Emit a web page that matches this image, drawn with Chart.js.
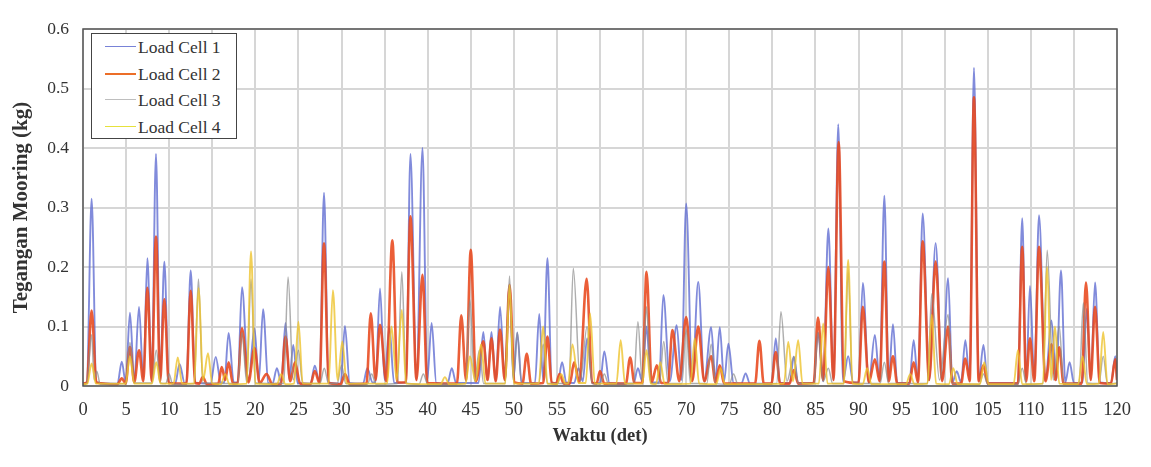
<!DOCTYPE html>
<html>
<head>
<meta charset="utf-8">
<script src="https://cdn.jsdelivr.net/npm/chart.js@4/dist/chart.umd.min.js"></script>
<style>
  html, body { margin: 0; padding: 0; background: #fff; }
  #wrap { position: relative; width: 1151px; height: 467px; }
  #legend {
    position: absolute; left: 91px; top: 33px; width: 144px; height: 104px;
    border: 1.5px solid #444; background: #fff; box-sizing: content-box;
    font-family: "Liberation Serif", "Times New Roman", serif; font-size: 17.5px; color: #333;
  }
  #legend .row { position: absolute; left: 0; height: 24px; line-height: 24px; white-space: nowrap; }
  #legend .swatch { position: absolute; left: 13px; top: 11px; width: 31px; }
  #legend .lbl { position: absolute; left: 46px; top: 0; }
</style>
</head>
<body>
<div id="wrap">
  <canvas id="c" width="1151" height="467"></canvas>
  <div id="legend"></div>
</div>
<script>
// ---- data (time in s, tension in kg) ----
const seriesNames = ["Load Cell 1", "Load Cell 2", "Load Cell 3", "Load Cell 4"];
const xTickStep = 5;
const yTickStep = 0.1;

const cell1Points = [[0,0.004],[0.45,0.006],[1.0,0.315],[1.55,0.006],[4.0,0.004],[4.5,0.041],[4.95,0.006],[5.45,0.123],[5.95,0.008],[6.5,0.133],[7.0,0.01],[7.47,0.215],[7.97,0.01],[8.47,0.39],[8.95,0.01],[9.44,0.209],[9.95,0.006],[10.7,0.004],[11.2,0.037],[11.8,0.005],[12.0,0.006],[12.5,0.194],[13.0,0.006],[14.8,0.004],[15.4,0.049],[16.0,0.006],[16.4,0.006],[16.9,0.089],[17.5,0.006],[17.95,0.006],[18.45,0.166],[19.2,0.008],[19.9,0.097],[20.4,0.008],[20.9,0.129],[21.5,0.005],[22.0,0.004],[22.5,0.03],[23.0,0.006],[23.5,0.106],[23.95,0.01],[24.4,0.069],[24.9,0.005],[26.4,0.004],[26.9,0.034],[27.45,0.006],[27.97,0.325],[28.5,0.006],[29.9,0.004],[30.4,0.101],[30.95,0.005],[32.5,0.004],[33.0,0.03],[33.6,0.006],[33.95,0.006],[34.47,0.164],[35.0,0.01],[35.55,0.1],[36.1,0.005],[37.5,0.006],[38.0,0.39],[38.7,0.01],[39.4,0.4],[39.95,0.01],[40.46,0.106],[41.0,0.005],[42.3,0.004],[42.8,0.03],[43.3,0.005],[45.9,0.005],[46.46,0.091],[46.95,0.01],[47.4,0.091],[47.9,0.008],[48.4,0.133],[48.95,0.01],[49.5,0.17],[49.95,0.01],[50.4,0.09],[50.9,0.005],[52.45,0.005],[52.95,0.121],[53.4,0.01],[53.9,0.215],[54.4,0.006],[55.1,0.005],[55.6,0.04],[56.1,0.006],[57.0,0.005],[57.5,0.03],[58.0,0.008],[58.5,0.08],[59.1,0.005],[60.0,0.005],[60.5,0.058],[61.1,0.005],[63.9,0.004],[64.4,0.03],[64.9,0.008],[65.4,0.1],[65.9,0.006],[66.85,0.006],[67.35,0.153],[68.1,0.008],[68.9,0.102],[69.45,0.01],[70.0,0.307],[70.7,0.01],[71.4,0.175],[72.1,0.008],[72.9,0.099],[73.4,0.01],[73.9,0.099],[74.4,0.008],[74.9,0.071],[75.5,0.005],[76.4,0.004],[76.9,0.021],[77.4,0.004],[79.9,0.004],[80.4,0.08],[80.9,0.005],[82.0,0.005],[82.5,0.049],[83.0,0.005],[84.8,0.005],[85.3,0.09],[85.9,0.008],[86.5,0.265],[87.1,0.01],[87.65,0.44],[88.2,0.008],[88.8,0.05],[89.4,0.006],[90.0,0.006],[90.5,0.173],[91.2,0.006],[91.9,0.086],[92.45,0.008],[93.0,0.32],[93.5,0.01],[94.0,0.104],[94.5,0.005],[95.9,0.005],[96.4,0.077],[96.9,0.008],[97.45,0.29],[98.2,0.01],[98.95,0.24],[99.7,0.01],[100.4,0.181],[100.9,0.006],[101.4,0.025],[101.9,0.006],[102.4,0.077],[102.9,0.008],[103.4,0.535],[103.95,0.008],[104.5,0.069],[105.0,0.005],[108.5,0.005],[109.0,0.282],[109.45,0.01],[109.9,0.168],[110.4,0.01],[110.95,0.287],[111.7,0.01],[112.4,0.11],[112.95,0.01],[113.5,0.194],[114.0,0.006],[114.5,0.04],[115.0,0.005],[116.0,0.006],[116.5,0.13],[116.95,0.01],[117.45,0.174],[118.0,0.006],[119.3,0.005],[119.8,0.05],[120,0.01]];

const cell2Points = [[0,0.004],[0.45,0.006],[1.0,0.127],[1.55,0.006],[4.0,0.003],[4.5,0.013],[4.95,0.004],[5.45,0.066],[5.95,0.006],[6.5,0.06],[7.0,0.008],[7.47,0.165],[7.97,0.008],[8.47,0.251],[8.95,0.008],[9.44,0.146],[9.95,0.005],[12.0,0.004],[12.5,0.16],[13.0,0.005],[13.5,0.004],[13.9,0.015],[14.4,0.003],[15.7,0.004],[16.1,0.032],[16.5,0.01],[16.9,0.04],[17.4,0.004],[17.95,0.005],[18.45,0.097],[19.2,0.006],[19.9,0.064],[20.5,0.005],[21.3,0.02],[22.0,0.003],[23.0,0.004],[23.5,0.083],[24.05,0.008],[24.6,0.04],[25.2,0.004],[26.4,0.003],[26.9,0.025],[27.45,0.005],[27.97,0.24],[28.5,0.005],[29.9,0.003],[30.4,0.02],[30.95,0.003],[32.9,0.004],[33.4,0.122],[33.95,0.01],[34.47,0.103],[35.2,0.008],[35.9,0.245],[36.5,0.006],[37.45,0.006],[38.0,0.285],[38.7,0.01],[39.4,0.187],[39.95,0.005],[43.4,0.004],[43.9,0.119],[44.45,0.01],[45.0,0.229],[45.6,0.008],[46.46,0.075],[46.95,0.01],[47.4,0.08],[47.9,0.008],[48.4,0.095],[48.95,0.01],[49.5,0.17],[50.1,0.006],[51.0,0.004],[51.5,0.054],[52.0,0.004],[53.4,0.005],[53.9,0.083],[54.4,0.005],[54.9,0.004],[55.3,0.02],[55.8,0.004],[56.5,0.004],[57.0,0.04],[57.6,0.006],[58.45,0.18],[59.1,0.006],[59.6,0.004],[60.0,0.025],[60.5,0.004],[63.0,0.004],[63.5,0.048],[64.0,0.005],[64.9,0.005],[65.4,0.192],[66.0,0.006],[66.6,0.035],[67.1,0.005],[67.9,0.005],[68.4,0.094],[69.2,0.008],[70.0,0.116],[70.7,0.008],[71.4,0.1],[72.1,0.008],[72.9,0.05],[73.4,0.006],[73.9,0.035],[74.4,0.004],[78.0,0.004],[78.5,0.076],[79.0,0.004],[79.9,0.004],[80.4,0.057],[80.9,0.004],[82.0,0.004],[82.5,0.027],[83.0,0.004],[84.8,0.005],[85.3,0.115],[85.9,0.01],[86.5,0.2],[87.1,0.01],[87.7,0.41],[88.3,0.008],[90.0,0.005],[90.5,0.133],[91.2,0.006],[91.9,0.045],[92.45,0.008],[93.0,0.209],[93.5,0.008],[94.0,0.05],[94.5,0.004],[95.9,0.004],[96.4,0.04],[96.9,0.006],[97.45,0.243],[98.2,0.01],[98.95,0.209],[99.7,0.008],[100.4,0.1],[100.9,0.004],[101.9,0.004],[102.4,0.046],[102.9,0.008],[103.4,0.485],[103.95,0.008],[104.5,0.035],[105.0,0.004],[108.5,0.004],[109.0,0.234],[109.45,0.008],[109.9,0.08],[110.4,0.008],[110.95,0.234],[111.7,0.008],[112.4,0.07],[112.85,0.01],[113.3,0.065],[113.8,0.004],[115.9,0.004],[116.4,0.174],[116.95,0.01],[117.45,0.133],[118.0,0.005],[119.3,0.004],[119.8,0.045],[120,0.01]];

const cell3Points = [[0,0.003],[0.45,0.005],[1.0,0.086],[1.3,0.01],[1.6,0.025],[2.0,0.003],[4.95,0.004],[5.45,0.073],[5.95,0.005],[8.0,0.005],[8.5,0.06],[9.0,0.005],[9.6,0.004],[10.0,0.02],[10.4,0.003],[12.9,0.004],[13.4,0.18],[13.9,0.005],[17.95,0.004],[18.45,0.09],[19.0,0.006],[19.5,0.18],[20.0,0.005],[23.3,0.004],[23.8,0.183],[24.4,0.01],[25.0,0.06],[25.5,0.004],[27.5,0.004],[28.0,0.03],[28.5,0.004],[29.5,0.004],[30.0,0.035],[30.5,0.004],[33.0,0.003],[33.5,0.02],[34.0,0.003],[36.5,0.004],[37.0,0.192],[37.5,0.005],[39.0,0.003],[39.5,0.02],[40.0,0.003],[44.4,0.004],[44.9,0.145],[45.45,0.008],[46.0,0.06],[46.5,0.004],[49.0,0.004],[49.5,0.185],[49.95,0.01],[50.4,0.09],[50.9,0.004],[52.9,0.004],[53.4,0.07],[53.9,0.004],[56.4,0.004],[56.9,0.198],[57.7,0.008],[58.5,0.1],[59.1,0.004],[60.0,0.003],[60.5,0.02],[61.0,0.003],[63.9,0.004],[64.4,0.108],[64.9,0.01],[65.4,0.133],[65.9,0.005],[66.9,0.004],[67.4,0.075],[67.9,0.004],[69.5,0.004],[70.0,0.095],[70.5,0.004],[72.4,0.004],[72.9,0.07],[73.4,0.004],[75.0,0.003],[75.5,0.02],[76.0,0.003],[80.5,0.004],[81.0,0.125],[81.7,0.008],[82.5,0.05],[83.0,0.004],[84.8,0.004],[85.3,0.09],[85.9,0.008],[86.5,0.03],[87.0,0.004],[88.3,0.004],[88.8,0.195],[89.3,0.005],[92.5,0.004],[93.0,0.04],[93.5,0.004],[98.0,0.004],[98.5,0.155],[99.4,0.01],[100.4,0.12],[100.9,0.004],[104.0,0.003],[104.5,0.02],[105.0,0.003],[108.5,0.003],[109.0,0.03],[109.5,0.003],[111.4,0.004],[111.9,0.228],[112.6,0.01],[113.3,0.1],[113.8,0.004],[115.6,0.004],[116.1,0.14],[116.6,0.005],[117.9,0.004],[118.4,0.05],[118.9,0.003],[120,0.005]];

const cell4Points = [[0,0.003],[0.5,0.004],[1.0,0.038],[1.5,0.004],[4.95,0.004],[5.45,0.05],[5.95,0.004],[8.0,0.004],[8.5,0.04],[9.0,0.004],[10.5,0.004],[11.0,0.048],[11.5,0.004],[12.9,0.004],[13.4,0.165],[13.95,0.01],[14.5,0.055],[15.0,0.004],[16.0,0.003],[16.5,0.02],[17.0,0.003],[19.0,0.004],[19.5,0.226],[20.0,0.004],[22.5,0.003],[23.0,0.02],[23.5,0.003],[24.5,0.004],[25.0,0.108],[25.5,0.004],[28.5,0.004],[29.0,0.161],[29.55,0.01],[30.1,0.075],[30.6,0.004],[35.3,0.004],[35.8,0.1],[36.4,0.01],[37.0,0.128],[37.5,0.004],[41.5,0.003],[42.0,0.015],[42.5,0.003],[44.4,0.004],[44.9,0.05],[45.55,0.008],[46.2,0.07],[46.7,0.004],[49.0,0.004],[49.5,0.17],[50.0,0.004],[52.9,0.004],[53.4,0.1],[53.9,0.004],[55.0,0.003],[55.5,0.02],[56.0,0.004],[56.3,0.004],[56.8,0.07],[57.5,0.005],[58.35,0.005],[58.85,0.122],[59.4,0.004],[61.9,0.004],[62.4,0.077],[62.9,0.004],[64.9,0.004],[65.4,0.06],[65.9,0.004],[66.5,0.003],[67.0,0.04],[67.5,0.003],[70.5,0.004],[71.0,0.08],[71.5,0.004],[73.5,0.003],[74.0,0.03],[74.5,0.003],[81.35,0.004],[81.85,0.074],[82.4,0.008],[83.0,0.077],[83.5,0.004],[85.4,0.004],[85.9,0.105],[86.4,0.004],[88.3,0.004],[88.8,0.212],[89.3,0.004],[90.5,0.003],[91.0,0.03],[91.5,0.003],[95.5,0.003],[96.0,0.02],[96.5,0.003],[98.0,0.004],[98.5,0.12],[99.0,0.004],[100.5,0.003],[101.0,0.03],[101.5,0.003],[104.1,0.003],[104.6,0.04],[105.1,0.003],[108.0,0.003],[108.5,0.06],[109.0,0.003],[111.4,0.004],[111.9,0.2],[112.35,0.01],[112.8,0.1],[113.3,0.004],[115.5,0.003],[116.0,0.05],[116.5,0.003],[117.9,0.004],[118.4,0.091],[118.9,0.003],[120,0.004]];

// ---- styling ----
const lineColors = ["rgba(98,110,210,0.8)", "rgba(232,72,28,0.88)", "rgba(140,140,140,0.7)", "rgba(238,195,45,0.8)"];
const legendColors = ["rgb(120,130,215)", "rgb(236,110,40)", "rgb(190,190,190)", "rgb(230,225,60)"];
const lineWidths = [1.9, 2.6, 1.5, 1.9];
const drawOrder = [4, 3, 2, 1];
const allPoints = [cell1Points, cell2Points, cell3Points, cell4Points];

const serif = '"Liberation Serif", "Times New Roman", serif';

const datasets = seriesNames.map((name, i) => ({
  label: name,
  data: allPoints[i].map(p => ({ x: p[0], y: p[1] })),
  borderColor: lineColors[i],
  borderWidth: lineWidths[i],
  pointRadius: 0,
  fill: false,
  cubicInterpolationMode: 'monotone',
  order: drawOrder[i]
}));

const frame = {
  id: 'frame',
  beforeDraw(chart) {
    const c = chart.ctx;
    c.save(); c.fillStyle = '#fff'; c.fillRect(0, 0, chart.width, chart.height); c.restore();
  },
  afterDraw(chart) {
    const a = chart.chartArea, c = chart.ctx;
    c.save();
    c.strokeStyle = '#555'; c.lineWidth = 1.5;
    c.strokeRect(a.left, a.top, a.right - a.left, a.bottom - a.top);
    c.restore();
  }
};

const chart = new Chart(document.getElementById('c'), {
  type: 'line',
  data: { datasets },
  options: {
    responsive: false,
    animation: false,
    layout: { padding: { left: 0, right: 34, top: 29, bottom: 0 } },
    plugins: { legend: { display: false }, tooltip: { enabled: false } },
    scales: {
      x: {
        type: 'linear', min: 0, max: 120,
        ticks: { stepSize: xTickStep, color: '#333', padding: 13, font: { family: serif, size: 18.5 } },
        grid: { color: '#d6d6d6', lineWidth: 2, drawTicks: false },
        border: { display: false },
        title: { display: true, text: 'Waktu (det)', color: '#333', padding: { top: 0, bottom: 20 }, font: { family: serif, size: 18.5, weight: 'bold' } },
        afterFit(s) { s.height = 81; }
      },
      y: {
        type: 'linear', min: 0, max: 0.6,
        ticks: { stepSize: yTickStep, color: '#333', padding: 14, font: { family: serif, size: 17.5 },
                 callback: v => (Math.round(v * 10) / 10).toString() },
        grid: { color: '#d6d6d6', lineWidth: 2, drawTicks: false },
        border: { display: false },
        title: { display: true, text: 'Tegangan Mooring (kg)', color: '#333', padding: { top: 9, bottom: 0 }, font: { family: serif, size: 21, weight: 'bold' } },
        afterFit(s) { s.width = 83; }
      }
    }
  },
  plugins: [frame]
});

// HTML legend built from the datasets
const legend = document.getElementById('legend');
chart.data.datasets.forEach((ds, i) => {
  const row = document.createElement('div');
  row.className = 'row';
  row.style.top = (1 + i * 26.5) + 'px';
  row.style.width = '100%';
  const sw = document.createElement('div');
  sw.className = 'swatch';
  sw.style.borderTop = (i === 1 ? 2.5 : 1.5) + 'px solid ' + legendColors[i];
  const lbl = document.createElement('span');
  lbl.className = 'lbl';
  lbl.textContent = ds.label;
  row.appendChild(sw); row.appendChild(lbl);
  legend.appendChild(row);
});
</script>
</body>
</html>
